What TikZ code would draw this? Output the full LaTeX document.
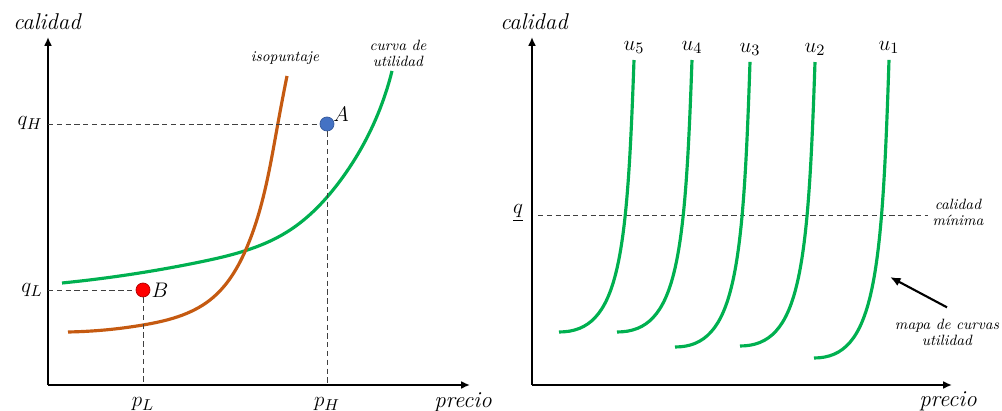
\documentclass[tikz,border=0pt]{standalone}
\usetikzlibrary{arrows.meta, hobby}

\definecolor{verde}{RGB}{0,176,80}
\definecolor{naranja}{RGB}{197,90,17}
\definecolor{azul}{RGB}{68,114,196}

\tikzset{
  eje/.style={line width=1.2pt, -{Latex[length=5pt,width=4.5pt]}},
  guia/.style={dash pattern=on 3pt off 2pt, line width=0.5pt, black!75},
  curva/.style={line width=1.8pt, verde},
  grande/.style={font=\fontsize{13}{15}\selectfont},
  titulo/.style={font=\fontsize{13}{15}\selectfont\itshape},
  nota/.style={font=\fontsize{8.5}{9}\selectfont\itshape, align=center},
  punto/.style={circle, minimum size=0.28cm, inner sep=0pt}
}

\begin{document}
\begin{tikzpicture}[x=0.02cm, y=-0.02cm]
  \useasboundingbox (0,0) rectangle (1002,411);

  % ---- grafico izquierdo ----
  \coordinate (O1) at (48,385);
  \coordinate (Y1) at (48,37);
  \coordinate (X1) at (470,385);
  \draw[eje] (O1) -- (Y1);
  \draw[eje] (O1) -- (X1);
  \node[titulo] (cal1) at (47,22) {calidad};
  \node[titulo] (pre1) at (463,402) {precio};

  % curvas
  \draw[curva, use Hobby shortcut] (62,283) .. (200,262) .. (287,232) .. (340,181) .. (392,71);
  \draw[curva, naranja, use Hobby shortcut] (68,332) .. (143,325) .. (210,300) .. (247,247) .. (278,123) .. (287,76);
  \node[nota] (iso) at (285,58) {isopuntaje};
  \node[nota] (util) at (398,53) {curva de\\utilidad};

  % puntos A y B
  \node[punto, fill=azul, draw=azul!80!black] (A) at (327,124) {};
  \node[punto, fill=red, draw=red!70!black] (B) at (143,290) {};
  \node[grande] (lA) at (341,114) {$A$};
  \node[grande] (lB) at (160,290) {$B$};

  % lineas guia
  \draw[guia] (O1 |- A) -- (A);
  \draw[guia] (A) -- (A |- O1);
  \draw[guia] (O1 |- B) -- (B);
  \draw[guia] (B) -- (B |- O1);
  \node[grande] (qH) at (30,123) {$q_H$};
  \node[grande] (qL) at (32,290) {$q_L$};
  \node[grande] (pL) at (143,404) {$p_L$};
  \node[grande] (pH) at (327,404) {$p_H$};

  % ---- grafico derecho ----
  \coordinate (O2) at (532,385);
  \coordinate (Y2) at (532,37);
  \coordinate (X2) at (952,385);
  \draw[eje] (O2) -- (Y2);
  \draw[eje] (O2) -- (X2);
  \node[titulo] (cal2) at (534,22) {calidad};
  \node[titulo] (pre2) at (948,401) {precio};

  % calidad minima
  \node[grande] (qmin) at (518,213) {$\underline{q}$};
  \node[nota] (cmin) at (958,212) {calidad\\mínima};
  \coordinate (g1) at (538,215);
  \coordinate (g2) at (928,215);
  \draw[guia] (g1) -- (g2);

  % mapa de curvas
  \foreach \xa/\ya/\s/\n in {559/332/1/5, 617/332/1/4, 675/347/1.048/3, 740/346/1.044/2, 814/358/1.096/1}{
    \draw[curva, shift={(\xa,\ya)}, yscale=\s] (0,0) .. controls (60,0) and (68,-72) .. (75,-272) coordinate (t\n);
    \node[grande, above] (u\n) at (t\n) {$u_{\n}$};
  }

  \node[nota] (mapa) at (947,332) {mapa de curvas\\utilidad};
  \coordinate (punta) at (890,277);
  \draw[line width=1.2pt, -{Latex[length=6pt,width=5pt]}] ([yshift=3pt]mapa.north) -- (punta);
\end{tikzpicture}
\end{document}
